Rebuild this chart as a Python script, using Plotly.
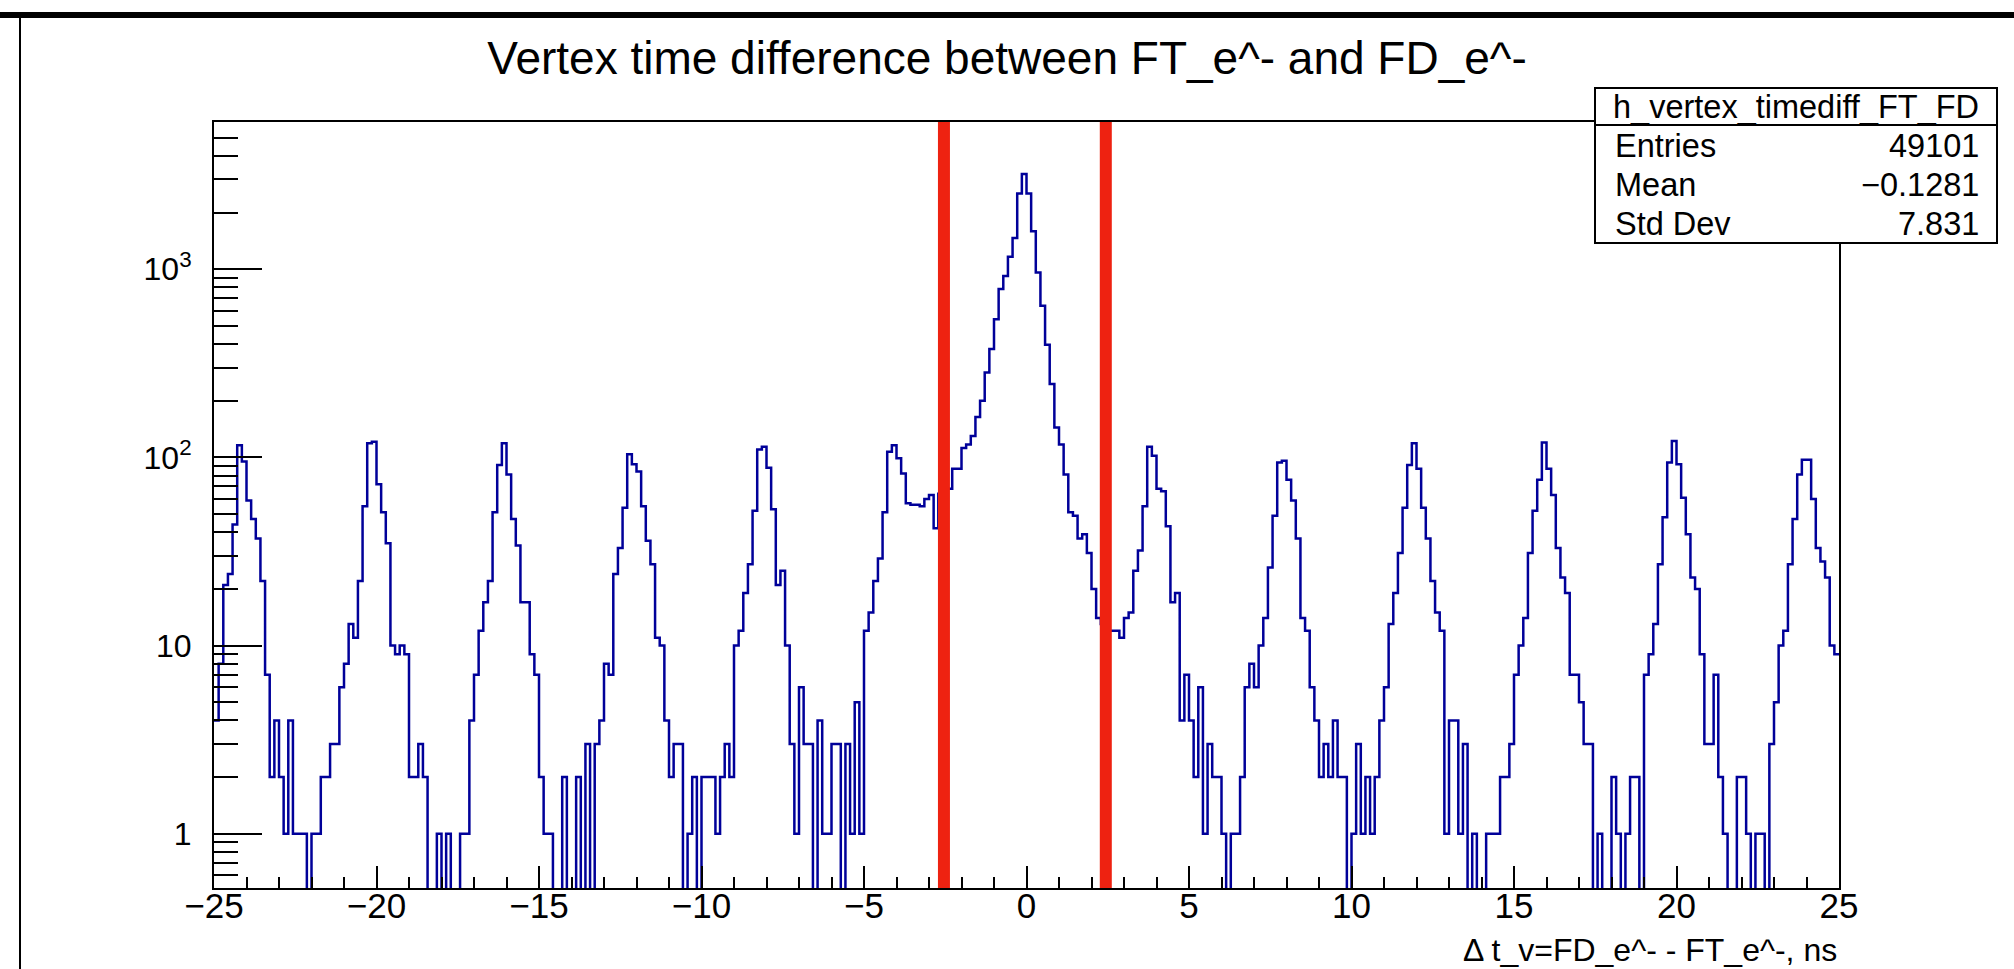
import numpy as np
import plotly.graph_objects as go

# ---------------- data ----------------
x_min, x_max, n_bins = -25.0, 25.0, 350
counts = [
    4, 8, 21, 24, 44, 116, 95, 59, 47, 37, 22, 7, 2, 4, 2, 1, 4, 1, 1, 1,
    0, 1, 1, 2, 2, 3, 3, 6, 8, 13, 11, 22, 55, 119, 121, 72, 51, 35, 10, 9,
    10, 9, 2, 2, 3, 2, 0, 0, 1, 0, 1, 0, 0, 1, 1, 4, 7, 12, 17, 22,
    51, 91, 119, 81, 47, 34, 17, 17, 9, 7, 2, 1, 1, 0, 0, 2, 0, 0, 2, 0,
    3, 0, 3, 4, 8, 7, 24, 33, 54, 104, 92, 84, 55, 36, 27, 11, 10, 4, 2, 3,
    3, 0, 1, 2, 0, 2, 2, 2, 1, 2, 3, 2, 10, 12, 19, 27, 52, 110, 114, 88,
    53, 21, 25, 10, 3, 1, 6, 3, 3, 0, 4, 1, 1, 3, 3, 0, 3, 1, 5, 1,
    12, 15, 22, 29, 51, 107, 116, 99, 82, 57, 56, 56, 55, 60, 63, 42, 64, 67, 68, 87,
    87, 112, 117, 130, 164, 200, 282, 376, 541, 785, 919, 1165, 1466, 2525, 3200, 2525, 1592, 960, 640, 396,
    245, 144, 117, 81, 51, 49, 37, 39, 31, 20, 14, 13, 12, 12, 12, 11, 14, 15, 25, 32,
    55, 114, 102, 68, 66, 43, 17, 19, 4, 7, 4, 2, 6, 1, 3, 2, 2, 1, 0, 1,
    1, 2, 6, 8, 6, 10, 14, 26, 49, 94, 96, 76, 59, 37, 14, 12, 6, 4, 2, 3,
    2, 4, 2, 2, 0, 1, 3, 1, 2, 1, 2, 4, 6, 13, 19, 31, 54, 91, 119, 87,
    54, 37, 22, 15, 12, 1, 4, 4, 1, 3, 0, 1, 0, 0, 1, 1, 1, 2, 2, 3,
    7, 10, 14, 31, 52, 76, 120, 87, 63, 33, 23, 19, 7, 7, 5, 3, 3, 0, 1, 0,
    0, 2, 1, 0, 1, 2, 2, 0, 7, 9, 13, 27, 48, 94, 122, 92, 61, 39, 23, 20,
    9, 3, 3, 7, 2, 1, 0, 0, 2, 2, 1, 0, 1, 1, 0, 3, 5, 10, 12, 27,
    47, 81, 97, 97, 60, 33, 28, 23, 10, 9,
]
cut_lines = [-2.54, 2.44]

title_text = "Vertex time difference between FT_e^- and FD_e^-"
x_title = "\u0394 t_v=FD_e^- - FT_e^-, ns"
stats_name = "h_vertex_timediff_FT_FD"
stats_labels = ["Entries", "Mean", "Std Dev"]
stats_values = ["49101", "\u22120.1281", "7.831"]

x_major = [-25, -20, -15, -10, -5, 0, 5, 10, 15, 20, 25]
x_major_text = ["\u221225", "\u221220", "\u221215", "\u221210", "\u22125", "0", "5", "10", "15", "20", "25"]
y_major = [1, 10, 100, 1000]
y_major_text = ["1", "10", "10<sup>2</sup>", "10<sup>3</sup>"]
y_minor = [0.6, 0.7, 0.8, 0.9] + [m * 10 ** k for k in range(0, 4) for m in range(2, 10) if m * 10 ** k < 6100]
y_range_log = [-0.2885, 3.782]

# ---------------- geometry helpers ----------------
W, H = 2014, 969
L, R, T, B = 214, 1839, 122, 888
def px(x):
    return (x - L) / (R - L)
def py(y):
    return (B - y) / (B - T)

FONT = "Liberation Sans, Arial, Helvetica, sans-serif"

edges = np.linspace(x_min, x_max, n_bins + 1)
vals = np.array(counts, dtype=float)
vals_plot = np.where(vals > 0, vals, 1e-3)
xs = np.append(edges[:-1], edges[-1])
ys = np.append(vals_plot, vals_plot[-1])

fig = go.Figure()
fig.add_trace(go.Scatter(
    x=xs, y=ys, mode="lines", line=dict(color="#000099", width=2.5, shape="hv"),
    hoverinfo="skip", showlegend=False,
))

shapes = []
for c in cut_lines:
    shapes.append(dict(type="line", xref="x", yref="paper", x0=c, x1=c, y0=0, y1=1,
                       line=dict(color="#ee2211", width=12), layer="above"))
# stats box
shapes.append(dict(type="rect", xref="paper", yref="paper",
                   x0=px(1595), x1=px(1997), y0=py(243), y1=py(88),
                   line=dict(color="black", width=2), fillcolor="white", layer="above"))
shapes.append(dict(type="line", xref="paper", yref="paper",
                   x0=px(1595), x1=px(1997), y0=py(125), y1=py(125),
                   line=dict(color="black", width=2), layer="above"))
# window border (top and left)
shapes.append(dict(type="rect", xref="paper", yref="paper",
                   x0=px(0), x1=px(W), y0=py(18), y1=py(12),
                   line=dict(width=0), fillcolor="black", layer="above"))
shapes.append(dict(type="line", xref="paper", yref="paper",
                   x0=px(20), x1=px(20), y0=py(12), y1=py(H),
                   line=dict(color="black", width=2), layer="above"))

STAT_SIZE = 32.5
annotations = []
annotations.append(dict(text=stats_name, xref="paper", yref="paper", x=px(1796), y=py(106.5),
                        xanchor="center", yanchor="middle", showarrow=False,
                        font=dict(family=FONT, size=STAT_SIZE, color="black")))
row_y = [146, 185, 224]
for lab, val, yy in zip(stats_labels, stats_values, row_y):
    annotations.append(dict(text=lab, xref="paper", yref="paper", x=px(1613), y=py(yy),
                            xanchor="left", yanchor="middle", showarrow=False,
                            font=dict(family=FONT, size=STAT_SIZE, color="black")))
    annotations.append(dict(text=val, xref="paper", yref="paper", x=px(1981), y=py(yy),
                            xanchor="right", yanchor="middle", showarrow=False,
                            font=dict(family=FONT, size=STAT_SIZE, color="black")))
annotations.append(dict(text=x_title, xref="paper", yref="paper", x=1.0, y=py(950),
                        xanchor="right", yanchor="middle", showarrow=False,
                        font=dict(family=FONT, size=32, color="black")))

fig.update_layout(
    width=W, height=H,
    margin=dict(l=L, r=W - R, t=T, b=H - B),
    paper_bgcolor="white", plot_bgcolor="white",
    title=dict(text=title_text, x=0.5, xanchor="center", y=1 - 58 / H, yanchor="middle",
               font=dict(family=FONT, size=46, color="black")),
    shapes=shapes, annotations=annotations,
    showlegend=False,
)
fig.update_xaxes(
    range=[x_min, x_max], showgrid=False, zeroline=False,
    showline=True, linecolor="black", linewidth=2, mirror=True,
    ticks="inside", ticklen=22, tickwidth=2, tickcolor="black",
    tickmode="array", tickvals=x_major, ticktext=x_major_text,
    minor=dict(ticks="inside", ticklen=11, tickwidth=2, tickcolor="black", dtick=1, tick0=0),
    tickfont=dict(family=FONT, size=35, color="black"),
    ticklabelstandoff=-14,
)
fig.update_yaxes(
    type="log", range=y_range_log, showgrid=False, zeroline=False,
    showline=True, linecolor="black", linewidth=2, mirror=True,
    ticks="inside", ticklen=48, tickwidth=2, tickcolor="black",
    tickmode="array", tickvals=y_major, ticktext=y_major_text,
    minor=dict(ticks="inside", ticklen=24, tickwidth=2, tickcolor="black",
               tickmode="array", tickvals=y_minor),
    tickfont=dict(family=FONT, size=32, color="black"),
    ticklabelstandoff=14,
)

fig.write_html("out.html")
